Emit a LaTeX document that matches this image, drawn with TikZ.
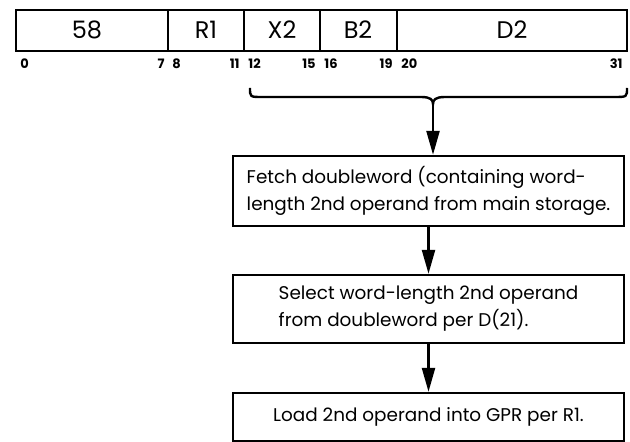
\documentclass[tikz,border=0pt]{standalone}
\usepackage{fontspec}
\setmainfont{Poppins}
\usetikzlibrary{arrows.meta,positioning}
\begin{document}
\begin{tikzpicture}[
      x=0.5pt, y=-0.5pt,
      field/.style={font=\fontsize{12}{13}\selectfont},
      bit/.style={font=\fontsize{6.5}{7}\selectfont\bfseries, inner sep=0pt},
      stepbox/.style={draw=black, line width=1.2pt, minimum width=195.5pt, inner sep=0pt, align=left, font=\fontsize{9.2}{13.5}\selectfont},
      arr/.style={-{Triangle[length=12pt,width=6.5pt]}, line width=1.2pt}
    ]
      \useasboundingbox (0,0) rectangle (630,442);
      % instruction format
      \draw[line width=1.3pt] (16,10) rectangle (627,51);
      \foreach \x in {168,244,320,397} \draw[line width=1.1pt] (\x,10) -- (\x,51);
      \node[field] (opcode) at (87,30) {58};
      \node[field] (r1) at (206,30) {R1};
      \node[field] (x2) at (282,30) {X2};
      \node[field] (b2) at (358,30) {B2};
      \node[field] (d2) at (512,30) {D2};
      \foreach \n/\x/\a in {0/20/west, 7/165/east, 8/172/west, 11/240/east, 12/248/west, 15/316/east, 16/324/west, 19/393/east, 20/401/west, 31/623/east}
        \node[bit, anchor=\a] (bit\n) at (\x,64) {\n};
      % brace over bits 12-31
      \coordinate (tip) at (433,104);
      \draw[line width=1.2pt] (250,88) .. controls (250,97) .. (262,97) -- (421,97)
        .. controls (431,97) and (433,100) .. (tip)
        .. controls (433,100) and (435,97) .. (445,97) -- (614,97)
        .. controls (627,97) .. (627,88);
      % steps
      \node[stepbox, minimum height=35pt] (fetch) at (428.5,191) {Fetch doubleword (containing word-\\length 2nd operand from main storage.};
      \node[stepbox, minimum height=34pt] (select) at (428.5,309) {Select word-length 2nd operand\\from doubleword per D(21).};
      \node[stepbox, minimum height=24pt] (load) at (428.5,417) {Load 2nd operand into GPR per R1.};
      \draw[arr] (tip) -- (tip |- fetch.north);
      \draw[arr] (fetch) -- (select);
      \draw[arr] (select) -- (load);
    \end{tikzpicture}
\end{document}
